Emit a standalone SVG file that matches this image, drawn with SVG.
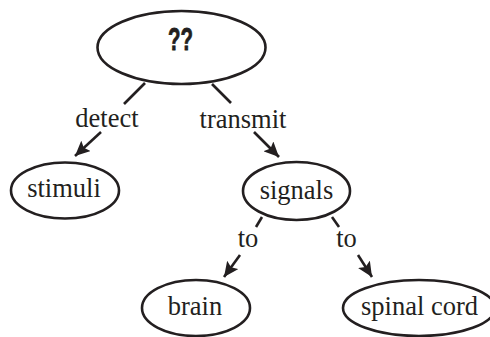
<svg xmlns="http://www.w3.org/2000/svg" width="490" height="337" viewBox="0 0 490 337">
<style>
.n{fill:#fff;stroke:#231f20;stroke-width:2.6}
.t{font-family:"Liberation Serif",serif;font-size:26.5px;fill:#231f20;text-anchor:middle}
.c{stroke:#231f20;stroke-width:2.6;fill:none}
.a{marker-end:url(#ah)}
</style>
<defs>
<marker id="ah" markerUnits="userSpaceOnUse" markerWidth="16" markerHeight="14" viewBox="0 0 16 14" refX="15" refY="7" orient="auto">
<path d="M0,0 L15,7 L0,14 L3,7 z" fill="#231f20"/>
</marker>
</defs>
<rect width="490" height="337" fill="#fff"/>
<g id="connectors">
<line class="c" x1="145" y1="83" x2="124" y2="104"/>
<line class="c" x1="212" y1="84" x2="231" y2="103"/>
<line class="c a" x1="101" y1="132" x2="75" y2="156"/>
<line class="c a" x1="254" y1="132" x2="279" y2="157"/>
<line class="c" x1="262" y1="217" x2="256" y2="227"/>
<line class="c" x1="332" y1="217" x2="339" y2="227"/>
<line class="c a" x1="240" y1="255" x2="224" y2="277"/>
<line class="c a" x1="358" y1="255" x2="372" y2="277"/>
<text class="t" x="107" y="127">detect</text>
<text class="t" x="243" y="128">transmit</text>
<text class="t" x="248" y="247">to</text>
<text class="t" x="346.5" y="247">to</text>
</g>
<g id="root">
<ellipse class="n" cx="181.5" cy="47.5" rx="84" ry="36.5"/>
<text x="180.5" y="50" font-family="Liberation Sans,sans-serif" font-weight="bold" font-size="31" fill="#231f20" stroke="#231f20" stroke-width="0.8" text-anchor="middle" textLength="25" lengthAdjust="spacingAndGlyphs">??</text>
</g>
<g id="stimuli">
<ellipse class="n" cx="65" cy="190.5" rx="54" ry="28"/>
<text class="t" x="64" y="197">stimuli</text>
</g>
<g id="signals">
<ellipse class="n" cx="296.5" cy="191" rx="53.5" ry="29"/>
<text class="t" x="296.5" y="199">signals</text>
</g>
<g id="brain">
<ellipse class="n" cx="196" cy="308" rx="54" ry="28"/>
<text class="t" x="195" y="315">brain</text>
</g>
<g id="spinal-cord">
<ellipse class="n" cx="419" cy="308" rx="76" ry="28"/>
<text class="t" x="419.5" y="315">spinal cord</text>
</g>
</svg>
